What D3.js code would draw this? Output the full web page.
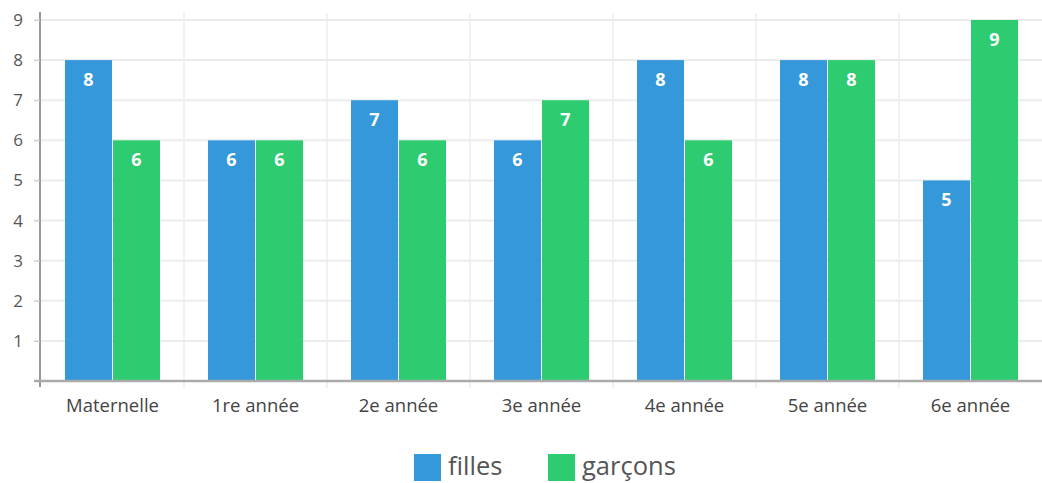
<!DOCTYPE html>
<html><head><meta charset="utf-8">
<script src="https://cdn.jsdelivr.net/npm/d3@7"></script>
<style>body{margin:0;background:#fff;font-family:"Open Sans",sans-serif;}</style>
</head><body><svg id="c" width="1042" height="483"></svg>
<script>
const categories = ["Maternelle","1re année","2e année","3e année","4e année","5e année","6e année"];
const seriesNames = ["filles","garçons"];
const filles = [8,6,7,6,8,8,5];
const garcons = [6,6,6,7,6,8,9];
const yTicks = [1,2,3,4,5,6,7,8,9];
const colors = ["#3498db","#2ecc71"];

(function(){
const svg = d3.select("#c");
const pLeft = 41, pRight = 1042, pTop = 20, pBottom = 381;
const x = d3.scaleBand().domain(categories).range([pLeft, pRight]);
const x1 = d3.scaleBand().domain(seriesNames).range([24, x.bandwidth()-24]).paddingInner(0.02);
const y = d3.scaleLinear().domain([0,9]).range([pBottom, pTop]);

svg.append("g").selectAll("line").data(yTicks).join("line")
  .attr("x1", 34).attr("x2", pRight).attr("y1", d=>y(d)).attr("y2", d=>y(d))
  .attr("stroke", "#ececec").attr("stroke-width", 2);
svg.append("g").selectAll("line").data(categories.slice(1)).join("line")
  .attr("x1", d=>x(d)).attr("x2", d=>x(d)).attr("y1", 13).attr("y2", 388)
  .attr("stroke", "#ececec").attr("stroke-width", 1.5);

const data = categories.map((c,i)=>({c, vals:[filles[i], garcons[i]]}));
const g = svg.append("g").selectAll("g").data(data).join("g").attr("transform", d=>`translate(${x(d.c)},0)`);
g.selectAll("rect").data(d=>d.vals.map((v,j)=>({s:seriesNames[j], v, j}))).join("rect")
  .attr("x", d=>x1(d.s)).attr("width", x1.bandwidth())
  .attr("y", d=>y(d.v)).attr("height", d=>pBottom - y(d.v))
  .attr("fill", d=>colors[d.j]);
g.selectAll("text").data(d=>d.vals.map((v,j)=>({s:seriesNames[j], v, j}))).join("text")
  .attr("x", d=>x1(d.s)+x1.bandwidth()/2).attr("y", d=>y(d.v)+26)
  .attr("text-anchor","middle").attr("fill","#fff").attr("font-weight","bold")
  .attr("font-size", 18).attr("font-family","Open Sans").text(d=>d.v);

const yAxis = d3.axisLeft(y).tickValues(yTicks).tickSize(6).tickPadding(11);
const ya = svg.append("g").attr("transform", `translate(${pLeft-1},0)`).call(yAxis);
ya.select(".domain").attr("d", `M0,12V${pBottom+6}`).attr("stroke","#999").attr("stroke-width",2);
ya.selectAll(".tick line").attr("stroke","#ccc");
ya.selectAll("text").attr("font-size",17).attr("fill","#555").attr("font-family","Open Sans");

svg.append("line").attr("x1",34).attr("x2",pRight).attr("y1",pBottom).attr("y2",pBottom)
  .attr("stroke","#aaa").attr("stroke-width",2.5);

const xAxis = d3.axisBottom(x).tickSize(0).tickPadding(18);
const xa = svg.append("g").attr("transform", `translate(0,${pBottom})`).call(xAxis);
xa.select(".domain").remove();
xa.selectAll("text").attr("font-size",18.5).attr("fill","#444").attr("font-family","Open Sans");

const legendX = [414, 548];
const lg = svg.append("g").selectAll("g").data(seriesNames).join("g")
  .attr("transform", (d,i)=>`translate(${legendX[i]},454)`);
lg.append("rect").attr("width",27).attr("height",27).attr("fill",(d,i)=>colors[i]);
lg.append("text").attr("x",34).attr("y",21).attr("font-size",25.5).attr("fill","#555")
  .attr("font-family","Open Sans").text(d=>d);
})();
</script></body></html>
